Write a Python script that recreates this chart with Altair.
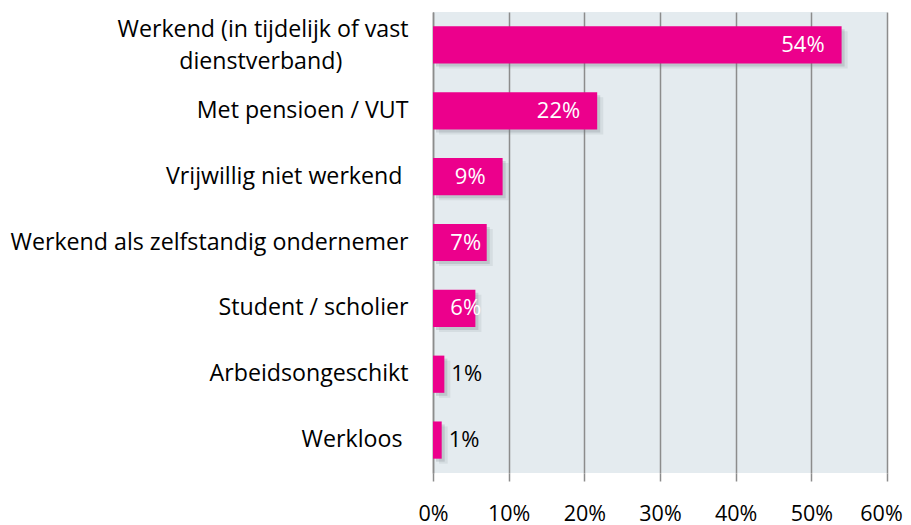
import altair as alt
import pandas as pd

PAD = "\u00a0" * 11 + "\u2060"
categories = [
    "Werkend (in tijdelijk of vast|dienstverband)" + PAD,
    "Met pensioen / VUT",
    "Vrijwillig niet werkend" + "\u00a0\u2060",
    "Werkend als zelfstandig ondernemer",
    "Student / scholier",
    "Arbeidsongeschikt",
    "Werkloos" + "\u00a0\u2060",
]
values = [54.0, 21.7, 9.2, 7.1, 5.6, 1.5, 1.15]
value_labels = ["54%", "22%", "9%", "7%", "6%", "1%", "1%"]
x_ticks = [0, 10, 20, 30, 40, 50, 60]

df = pd.DataFrame({"cat": categories, "value": values, "label": value_labels})

FONT = "Open Sans"
PINK = "#EC008C"

y_enc = alt.Y(
    "cat:N",
    sort=categories,
    title=None,
    scale=alt.Scale(paddingInner=0.435, paddingOuter=0.2175),
    axis=alt.Axis(
        labelExpr="split(datum.label, '|')",
        labelFont=FONT,
        labelFontSize=23.2,
        labelColor="#000000",
        labelLineHeight=32,
        labelPadding=25,
        labelOffset={
            "condition": {"test": "indexof(datum.value, '|') >= 0", "value": -15},
            "value": 0,
        },
        ticks=False,
        domain=True,
        domainColor="#8c8c8c",
        domainWidth=1.5,
        labelLimit=600,
    ),
)

x_enc = alt.X(
    "value:Q",
    title=None,
    scale=alt.Scale(domain=[0, 60], nice=False),
    axis=alt.Axis(
        values=x_ticks,
        labelExpr="datum.value + '%'",
        labelFont=FONT,
        labelFontSize=21.5,
        labelColor="#000000",
        labelPadding=22,
        labelFlush=False,
        labelOverlap=False,
        labelOffset={
            "condition": {"test": "datum.value >= 60", "value": -6},
            "value": 0,
        },
        tickSize=8,
        tickColor="#8c8c8c",
        tickWidth=1.5,
        domain=False,
        grid=True,
        gridColor="#8c8c8c",
        gridWidth=1.5,
    ),
)

base = alt.Chart(df)

shadow1 = base.mark_bar(color="#6f787e", opacity=0.22, xOffset=3, yOffset=3).encode(
    x=alt.X("value:Q"), y=alt.Y("cat:N", sort=categories)
)
shadow2 = base.mark_bar(color="#6f787e", opacity=0.12, xOffset=6, yOffset=5).encode(
    x=alt.X("value:Q"), y=alt.Y("cat:N", sort=categories)
)

bars = base.mark_bar(color=PINK).encode(x=x_enc, y=y_enc)

inside = (
    base.transform_filter("datum.value >= 5")
    .transform_calculate(pos="max(datum.value, 8.6)")
    .mark_text(align="right", baseline="middle", dx=-17, font=FONT, fontSize=22, color="white")
    .encode(x=alt.X("pos:Q"), y=alt.Y("cat:N", sort=categories), text="label:N")
)

outside = (
    base.transform_filter("datum.value < 5")
    .mark_text(align="left", baseline="middle", dx=7, font=FONT, fontSize=22, color="black")
    .encode(x=alt.X("value:Q"), y=alt.Y("cat:N", sort=categories), text="label:N")
)

chart = (
    alt.layer(shadow2, shadow1, bars, inside, outside)
    .properties(
        width=454,
        height=461,
        autosize=alt.AutoSizeParams(type="none"),
        padding={"left": 425, "top": 4, "right": 16, "bottom": 52},
        background="white",
    )
    .configure_view(fill="#E4EBEF", stroke=None)
)

chart.save("out.html", embed_options={"renderer": "svg", "actions": False})
